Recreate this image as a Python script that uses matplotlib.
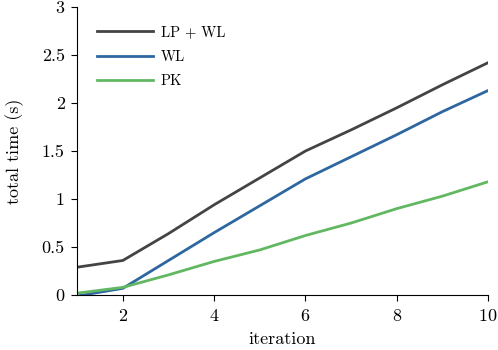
import matplotlib
matplotlib.use('Agg')
import matplotlib.pyplot as plt

plt.rcParams['font.family'] = 'serif'
plt.rcParams['font.serif'] = ['cmr10', 'DejaVu Serif']
plt.rcParams['mathtext.fontset'] = 'cm'
plt.rcParams['axes.formatter.use_mathtext'] = True

iterations = [1, 2, 3, 4, 5, 6, 7, 8, 9, 10]
lp_wl = [0.29, 0.36, 0.64, 0.94, 1.22, 1.50, 1.72, 1.95, 2.19, 2.42]
wl = [-0.01, 0.07, 0.36, 0.65, 0.93, 1.21, 1.44, 1.67, 1.91, 2.13]
pk = [0.02, 0.08, 0.21, 0.35, 0.47, 0.62, 0.75, 0.90, 1.03, 1.18]

fig = plt.figure(figsize=(4.98, 3.5), dpi=100)
ax = fig.add_axes([0.155, 0.157, 0.825, 0.823])

ax.plot(iterations, lp_wl, color='#444444', lw=2, label='LP + WL')
ax.plot(iterations, wl, color='#2e67a0', lw=2, label='WL')
ax.plot(iterations, pk, color='#62b862', lw=2, label='PK')

ax.set_xlim(1, 10)
ax.set_ylim(0, 3)
ax.set_xticks([2, 4, 6, 8, 10])
ax.set_yticks([0, 0.5, 1, 1.5, 2, 2.5, 3])
ax.set_yticklabels(['0', '0.5', '1', '1.5', '2', '2.5', '3'])
ax.tick_params(labelsize=13, direction='out', length=4, width=0.8, pad=5)
ax.spines['top'].set_visible(False)
ax.spines['right'].set_visible(False)
ax.set_xlabel('iteration', fontsize=13, labelpad=6)
ax.set_ylabel('total time (s)', fontsize=13, labelpad=13)

ax.legend(loc='upper left', frameon=False, fontsize=10.5, handlelength=3.8,
          handletextpad=0.55, labelspacing=0.72, borderpad=0, borderaxespad=0,
          bbox_to_anchor=(0.049, 0.935))

fig.savefig('out.png', dpi=100)
